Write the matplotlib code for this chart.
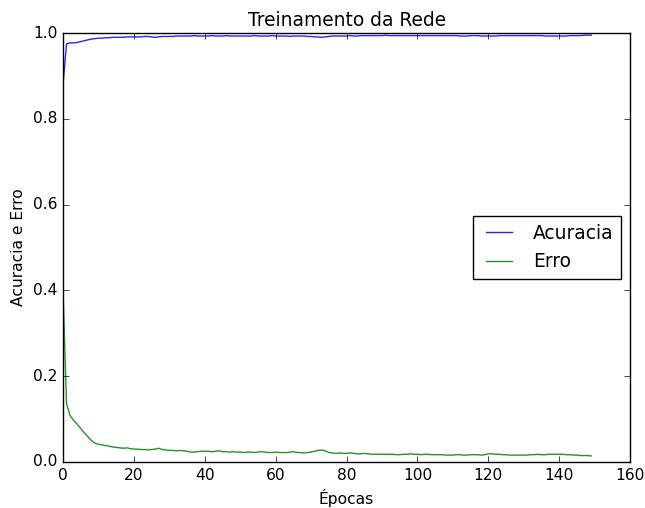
import matplotlib
matplotlib.use('Agg')
import matplotlib.pyplot as plt
import numpy as np

# values (one per epoch, 0..149)
acuracia = [
    0.880, 0.975, 0.977, 0.977, 0.978, 0.980, 0.982, 0.984, 0.986, 0.987,
    0.988, 0.988, 0.989, 0.989, 0.990, 0.990, 0.990, 0.990, 0.991, 0.991,
    0.991, 0.991, 0.991, 0.992, 0.992, 0.991, 0.990, 0.991, 0.992, 0.992,
    0.992, 0.992, 0.993, 0.993, 0.993, 0.993, 0.993, 0.994, 0.993, 0.993,
    0.993, 0.993, 0.994, 0.993, 0.993, 0.993, 0.994, 0.993, 0.993, 0.993,
    0.993, 0.993, 0.993, 0.993, 0.994, 0.993, 0.993, 0.993, 0.993, 0.994,
    0.993, 0.993, 0.993, 0.993, 0.992, 0.993, 0.993, 0.993, 0.993, 0.992,
    0.992, 0.991, 0.991, 0.990, 0.991, 0.992, 0.993, 0.993, 0.993, 0.993,
    0.993, 0.994, 0.993, 0.993, 0.994, 0.994, 0.994, 0.994, 0.994, 0.994,
    0.994, 0.995, 0.994, 0.994, 0.994, 0.994, 0.994, 0.994, 0.994, 0.994,
    0.994, 0.994, 0.994, 0.994, 0.994, 0.994, 0.994, 0.994, 0.994, 0.994,
    0.994, 0.994, 0.993, 0.993, 0.993, 0.994, 0.994, 0.994, 0.993, 0.993,
    0.993, 0.993, 0.993, 0.994, 0.994, 0.994, 0.994, 0.994, 0.994, 0.994,
    0.994, 0.994, 0.994, 0.994, 0.994, 0.994, 0.993, 0.993, 0.993, 0.993,
    0.993, 0.993, 0.993, 0.994, 0.994, 0.994, 0.994, 0.995, 0.995, 0.995,
]

erro = [
    0.400, 0.135, 0.108, 0.097, 0.088, 0.078, 0.068, 0.059, 0.050, 0.044,
    0.041, 0.040, 0.038, 0.037, 0.035, 0.034, 0.033, 0.032, 0.033, 0.031,
    0.030, 0.030, 0.029, 0.029, 0.028, 0.029, 0.030, 0.032, 0.029, 0.028,
    0.027, 0.027, 0.026, 0.027, 0.026, 0.025, 0.023, 0.023, 0.024, 0.025,
    0.025, 0.025, 0.024, 0.025, 0.026, 0.024, 0.024, 0.023, 0.024, 0.023,
    0.023, 0.022, 0.023, 0.023, 0.022, 0.023, 0.024, 0.023, 0.022, 0.022,
    0.023, 0.022, 0.022, 0.022, 0.023, 0.024, 0.022, 0.022, 0.021, 0.022,
    0.023, 0.025, 0.027, 0.028, 0.026, 0.022, 0.021, 0.020, 0.021, 0.020,
    0.020, 0.021, 0.020, 0.019, 0.019, 0.020, 0.019, 0.018, 0.018, 0.018,
    0.018, 0.018, 0.018, 0.018, 0.017, 0.017, 0.018, 0.018, 0.019, 0.018,
    0.018, 0.017, 0.018, 0.018, 0.017, 0.017, 0.017, 0.017, 0.016, 0.016,
    0.016, 0.017, 0.017, 0.016, 0.016, 0.017, 0.017, 0.017, 0.016, 0.017,
    0.019, 0.019, 0.018, 0.018, 0.017, 0.017, 0.016, 0.016, 0.016, 0.016,
    0.016, 0.016, 0.017, 0.017, 0.018, 0.017, 0.017, 0.018, 0.018, 0.018,
    0.018, 0.018, 0.017, 0.017, 0.016, 0.016, 0.015, 0.015, 0.015, 0.014,
]

epocas = np.arange(len(acuracia))

plt.style.use('classic')
plt.rcParams['font.size'] = 11.2
fig = plt.figure(figsize=(6.45, 5.08), dpi=100, facecolor='white')
ax = fig.add_axes([0.0977, 0.0906, 0.8793, 0.8444])

ax.plot(epocas, acuracia, color='b', lw=1, alpha=0.85, label='Acuracia')
ax.plot(epocas, erro, color='g', lw=1, alpha=0.85, label='Erro')

ax.set_xlim(0, 160)
ax.set_ylim(0, 1.0)
ax.set_title('Treinamento da Rede')
ax.set_xlabel('Épocas', labelpad=5)
ax.set_ylabel('Acuracia e Erro')
ax.legend(loc='center right')

fig.savefig('out.png', dpi=100, facecolor='white')
